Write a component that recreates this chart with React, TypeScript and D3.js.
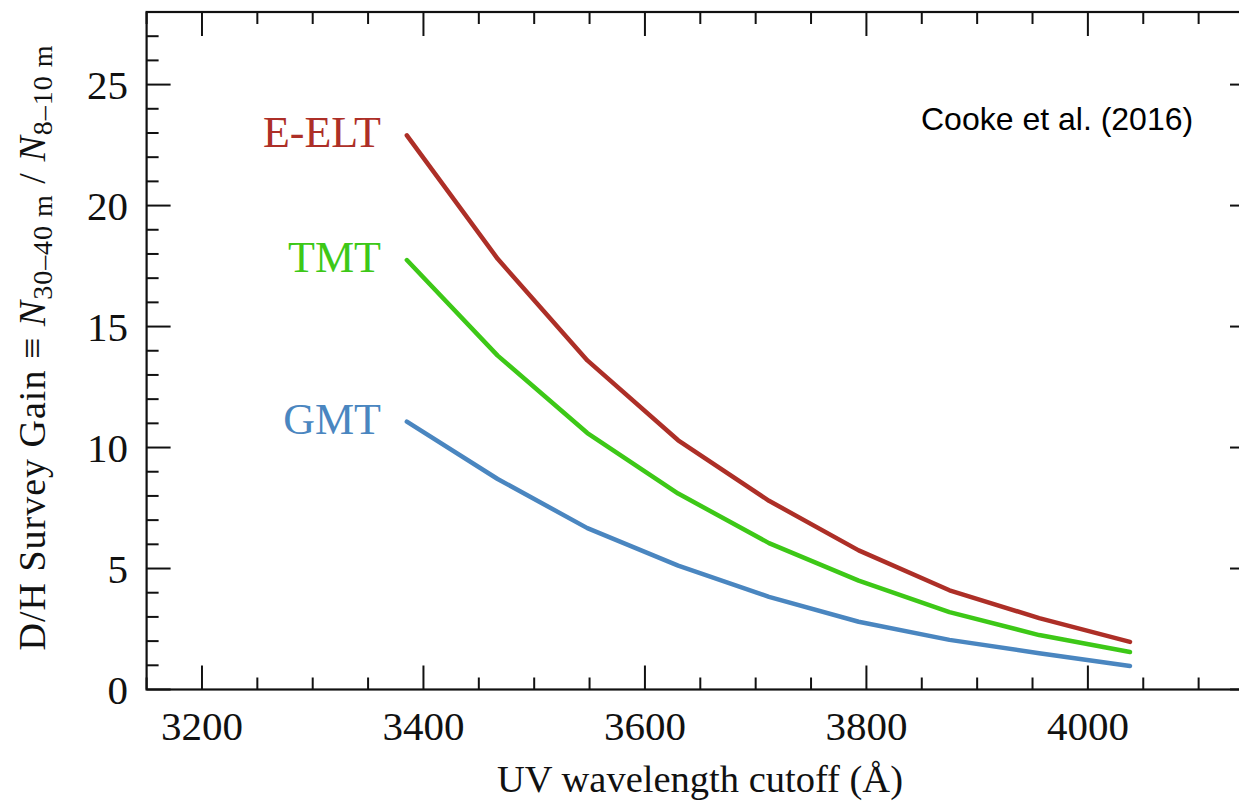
import React from "react";
import * as d3 from "d3";

// cutoff wavelengths (Å) sampled by the survey model
const wavelengths = [3385, 3467, 3548, 3630, 3712, 3793, 3875, 3956, 4038];

// survey gain relative to 8-10 m class telescopes
const eeltGain = [22.9, 17.8, 13.6, 10.3, 7.8, 5.75, 4.1, 2.95, 1.97];
const tmtGain = [17.75, 13.8, 10.6, 8.1, 6.05, 4.5, 3.2, 2.25, 1.55];
const gmtGain = [11.07, 8.7, 6.67, 5.12, 3.83, 2.8, 2.05, 1.5, 0.97];

const seriesNames = ["E-ELT", "TMT", "GMT"];
const seriesColors = ["#ad2f27", "#3dc817", "#4a86c0"];

const xTicks = [3200, 3400, 3600, 3800, 4000];
const yTicks = [0, 5, 10, 15, 20, 25];

const serif = "'Liberation Serif', 'Times New Roman', serif";

const App = () => {
  const width = 1239;
  const height = 804;
  const left = 146.6;
  const right = 1254;
  const top = 12;
  const bottom = 689.5;

  const x = d3.scaleLinear().domain([3150, 4150]).range([left, right]);
  const y = d3.scaleLinear().domain([0, 28]).range([bottom, top]);

  const series = [eeltGain, tmtGain, gmtGain];

  const line = d3
    .line<number>()
    .x((_, i) => x(wavelengths[i]))
    .y((d) => y(d));

  const xMinor = d3.range(3150, 4151, 50);
  const yMinor = d3.range(0, 29, 1);

  const majorLen = 24;
  const minorLen = 12;

  return (
    <svg
      width={width}
      height={height}
      style={{ position: "absolute", left: 0, top: 0, background: "#fff" }}
    >
      {/* frame */}
      <rect
        x={left}
        y={top}
        width={right - left}
        height={bottom - top}
        fill="none"
        stroke="#111"
        strokeWidth={2.2}
      />
      {/* x ticks, bottom and top */}
      {xMinor.map((t) => {
        const len = t % 200 === 0 ? majorLen : minorLen;
        return (
          <g key={"x" + t}>
            <line x1={x(t)} x2={x(t)} y1={bottom} y2={bottom - len} stroke="#111" strokeWidth={2} />
            <line x1={x(t)} x2={x(t)} y1={top} y2={top + len} stroke="#111" strokeWidth={2} />
          </g>
        );
      })}
      {/* y ticks, left and right */}
      {yMinor.map((t) => {
        const len = t % 5 === 0 ? majorLen : minorLen;
        return (
          <g key={"y" + t}>
            <line x1={left} x2={left + len} y1={y(t)} y2={y(t)} stroke="#111" strokeWidth={2} />
            <line x1={right} x2={right - len} y1={y(t)} y2={y(t)} stroke="#111" strokeWidth={2} />
          </g>
        );
      })}
      {/* tick labels */}
      {xTicks.map((t) => (
        <text
          key={"xl" + t}
          x={x(t)}
          y={740}
          textAnchor="middle"
          fontFamily={serif}
          fontSize={41}
          fill="#111"
        >
          {t}
        </text>
      ))}
      {yTicks.map((t) => (
        <text
          key={"yl" + t}
          x={128}
          y={y(t) + 14}
          textAnchor="end"
          fontFamily={serif}
          fontSize={41}
          fill="#111"
        >
          {t}
        </text>
      ))}
      {/* axis titles */}
      <text
        x={700}
        y={792}
        textAnchor="middle"
        fontFamily={serif}
        fontSize={38.5}
        fill="#111"
        textLength={406}
        lengthAdjust="spacing"
      >
        UV wavelength cutoff (Å)
      </text>
      <text
        transform={`translate(45, 348) rotate(-90)`}
        textAnchor="middle"
        fontFamily={serif}
        fontSize={38}
        fill="#111"
        textLength={605}
        lengthAdjust="spacing"
      >
        D/H Survey Gain ≡ <tspan fontStyle="italic">N</tspan>
        <tspan fontSize={28} dy={7}>30–40 m</tspan>
        <tspan dy={-7}> / </tspan>
        <tspan fontStyle="italic">N</tspan>
        <tspan fontSize={28} dy={7}>8–10 m</tspan>
      </text>
      {/* curves */}
      {series.map((s, i) => (
        <path
          key={seriesNames[i]}
          d={line(s) || ""}
          fill="none"
          stroke={seriesColors[i]}
          strokeWidth={4.5}
          strokeLinejoin="round"
          strokeLinecap="round"
        />
      ))}
      {/* curve labels */}
      {series.map((s, i) => (
        <text
          key={"lab" + i}
          x={381}
          y={y(s[0]) + 12}
          textAnchor="end"
          fontFamily={serif}
          fontSize={44}
          fill={seriesColors[i]}
        >
          {seriesNames[i]}
        </text>
      ))}
      <text
        x={921}
        y={130}
        fontFamily="'Liberation Sans', Arial, sans-serif"
        fontSize={32}
        fill="#000"
      >
        Cooke et al. (2016)
      </text>
    </svg>
  );
};

export default App;
